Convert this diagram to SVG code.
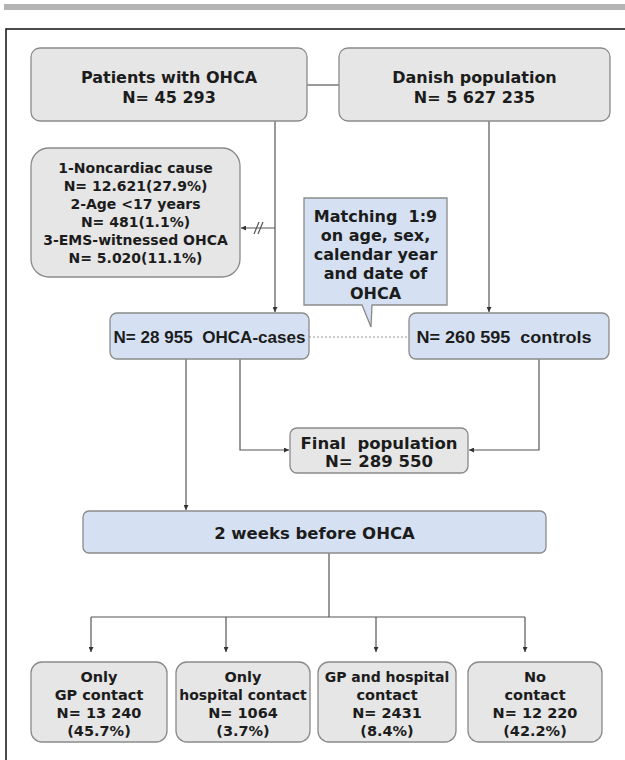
<svg xmlns="http://www.w3.org/2000/svg" width="625" height="760" viewBox="0 0 625 760">
<style>
.g{fill:#e6e6e6;stroke:#8a8a8a;stroke-width:1.3}
.b{fill:#d5e1f2;stroke:#8a8a8a;stroke-width:1.3}
.t{font-family:"DejaVu Sans",Verdana,sans-serif;font-weight:bold;fill:#1c1c1c;text-anchor:middle}
.a{font-family:"Liberation Sans",Arial,sans-serif;font-weight:bold;fill:#1c1c1c;text-anchor:middle}
.c{fill:none;stroke:#555;stroke-width:1.2}
.pre{white-space:pre}
</style>
<defs>
<marker id="ah" viewBox="0 0 10 10" refX="10" refY="5" markerWidth="5" markerHeight="5" orient="auto" markerUnits="userSpaceOnUse">
<path d="M0,0 L10,5 L0,10 Z" fill="#333"/>
</marker>
</defs>
<rect x="4" y="4" width="621" height="6" fill="#b4b4b4"/>
<path d="M6,760 V29 H625" fill="none" stroke="#111" stroke-width="1.5"/>
<g id="connectors">
<path class="c" d="M307,85 H339"/>
<path class="c" d="M275,121 V312" marker-end="url(#ah)"/>
<path class="c" d="M275,228 H241" marker-end="url(#ah)"/>
<path class="c" d="M254,234 L259,222 M258,234 L263,222"/>
<path class="c" d="M489,121 V312" marker-end="url(#ah)"/>
<path d="M309,337 H409" fill="none" stroke="#999" stroke-width="1.2" stroke-dasharray="2 2"/>
<path class="c" d="M240,359 V450 H289" marker-end="url(#ah)"/>
<path class="c" d="M539,359 V450 H469" marker-end="url(#ah)"/>
<path class="c" d="M186,359 V510" marker-end="url(#ah)"/>
<path class="c" d="M329,553 V617 M91,617 H525"/>
<path class="c" d="M91,617 V652" marker-end="url(#ah)"/>
<path class="c" d="M226,617 V652" marker-end="url(#ah)"/>
<path class="c" d="M376,617 V652" marker-end="url(#ah)"/>
<path class="c" d="M525,617 V652" marker-end="url(#ah)"/>
</g>
<g id="patients">
<rect class="g" x="31" y="48" width="276" height="73" rx="9"/>
<text class="t" x="169" y="83" font-size="16">Patients with OHCA</text>
<text class="t" x="169" y="103" font-size="16">N= 45 293</text>
</g>
<g id="danish">
<rect class="g" x="339" y="48" width="271" height="73" rx="9"/>
<text class="t" x="474.5" y="83" font-size="16">Danish population</text>
<text class="t" x="474.5" y="103" font-size="16">N= 5 627 235</text>
</g>
<g id="exclusions">
<rect class="g" x="31" y="148" width="209" height="129" rx="18"/>
<text class="t" x="135.5" y="173" font-size="14">1-Noncardiac cause</text>
<text class="t" x="135.5" y="191" font-size="14">N= 12.621(27.9%)</text>
<text class="t" x="135.5" y="209" font-size="14">2-Age &lt;17 years</text>
<text class="t" x="135.5" y="227" font-size="14">N= 481(1.1%)</text>
<text class="t" x="135.5" y="245" font-size="14">3-EMS-witnessed OHCA</text>
<text class="t" x="135.5" y="263" font-size="14">N= 5.020(11.1%)</text>
</g>
<g id="matching">
<path class="b" d="M304,198 H447 V305 H372 L371,327 L362,305 H304 Z"/>
<text class="t pre" x="375.5" y="222" font-size="16">Matching  1:9</text>
<text class="t" x="375.5" y="241" font-size="16">on age, sex,</text>
<text class="t" x="375.5" y="260" font-size="16">calendar year</text>
<text class="t" x="375.5" y="279" font-size="16">and date of</text>
<text class="t" x="375.5" y="299" font-size="16">OHCA</text>
</g>
<g id="cases">
<rect class="b" x="110" y="313" width="199" height="46" rx="7"/>
<text class="a pre" x="209.5" y="343" font-size="16.5" textLength="192" lengthAdjust="spacingAndGlyphs">N= 28 955  OHCA-cases</text>
</g>
<g id="controls">
<rect class="b" x="409" y="313" width="200" height="46" rx="7"/>
<text class="a pre" x="504" y="343" font-size="16.5" textLength="175" lengthAdjust="spacingAndGlyphs">N= 260 595  controls</text>
</g>
<g id="final">
<rect class="g" x="290" y="428" width="178" height="45" rx="7"/>
<text class="t pre" x="379" y="449" font-size="16.5">Final  population</text>
<text class="t" x="379" y="467" font-size="16.5">N= 289 550</text>
</g>
<g id="weeks">
<rect class="b" x="83" y="511" width="463" height="42" rx="6"/>
<text class="t" x="314.5" y="539" font-size="16.5">2 weeks before OHCA</text>
</g>
<g id="gp">
<rect class="g" x="31" y="662" width="136" height="80" rx="11"/>
<text class="t" x="99" y="682" font-size="14.5">Only</text>
<text class="t" x="99" y="700" font-size="14.5">GP contact</text>
<text class="t" x="99" y="718" font-size="14.5">N= 13 240</text>
<text class="t" x="99" y="736" font-size="14.5">(45.7%)</text>
</g>
<g id="hospital">
<rect class="g" x="176" y="662" width="134" height="80" rx="11"/>
<text class="t" x="243" y="682" font-size="14.5">Only</text>
<text class="t" x="243" y="700" font-size="14">hospital contact</text>
<text class="t" x="243" y="718" font-size="14.5">N= 1064</text>
<text class="t" x="243" y="736" font-size="14.5">(3.7%)</text>
</g>
<g id="gphospital">
<rect class="g" x="318" y="662" width="138" height="80" rx="11"/>
<text class="t" x="387" y="682" font-size="14">GP and hospital</text>
<text class="t" x="387" y="700" font-size="14.5">contact</text>
<text class="t" x="387" y="718" font-size="14.5">N= 2431</text>
<text class="t" x="387" y="736" font-size="14.5">(8.4%)</text>
</g>
<g id="nocontact">
<rect class="g" x="468" y="662" width="134" height="80" rx="11"/>
<text class="t" x="535" y="682" font-size="14.5">No</text>
<text class="t" x="535" y="700" font-size="14.5">contact</text>
<text class="t" x="535" y="718" font-size="14.5">N= 12 220</text>
<text class="t" x="535" y="736" font-size="14.5">(42.2%)</text>
</g>
</svg>
